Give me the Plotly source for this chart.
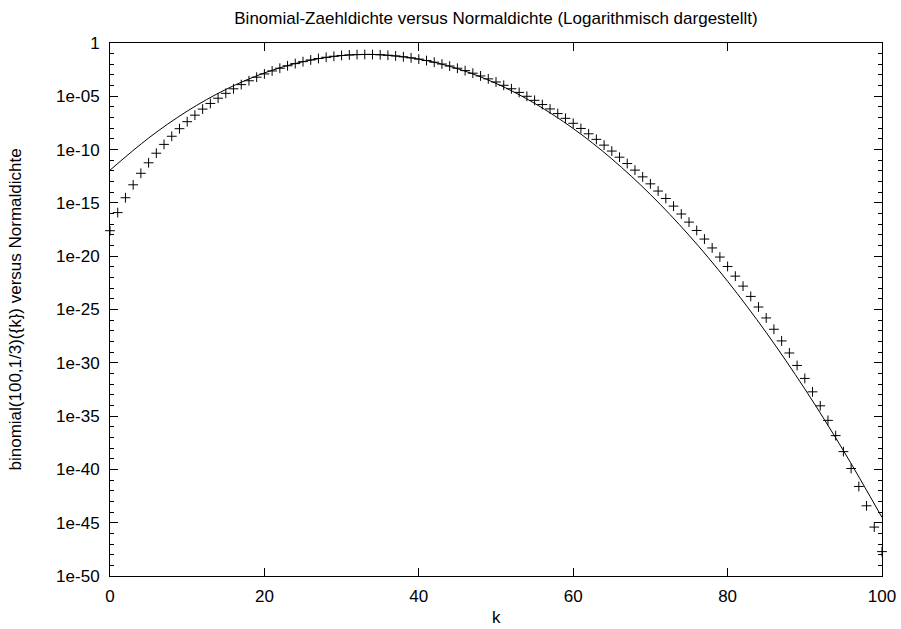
import plotly.graph_objects as go

# Binomial(100, 1/3) point masses, log10 of value, k = 0..100
k_vals = list(range(0, 101))
binom_log10 = [
    -17.609, -15.910, -14.516, -13.303, -12.220, -11.237, -10.339, -9.512, -8.748, -8.039,
    -7.381, -6.769, -6.200, -5.671, -5.178, -4.721, -4.297, -3.904, -3.541, -3.207,
    -2.901, -2.621, -2.367, -2.137, -1.932, -1.750, -1.591, -1.454, -1.339, -1.245,
    -1.172, -1.119, -1.087, -1.074, -1.080, -1.106, -1.150, -1.213, -1.295, -1.394,
    -1.512, -1.648, -1.801, -1.972, -2.161, -2.367, -2.590, -2.831, -3.089, -3.364,
    -3.657, -3.966, -4.293, -4.637, -4.999, -5.377, -5.773, -6.187, -6.618, -7.066,
    -7.533, -8.017, -8.519, -9.040, -9.579, -10.137, -10.713, -11.309, -11.924, -12.558,
    -13.213, -13.888, -14.584, -15.302, -16.041, -16.802, -17.586, -18.393, -19.225, -20.081,
    -20.963, -21.871, -22.807, -23.772, -24.767, -25.793, -26.853, -27.947, -29.079, -30.250,
    -31.464, -32.724, -34.034, -35.401, -36.830, -38.330, -39.915, -41.600, -43.416, -45.412,
    -47.713,
]

# Normal density curve (log10 of value) sampled along k
norm_x = [0, 5, 10, 15, 20, 25, 30, 33.333, 35, 40, 45, 50, 55, 60, 65, 70, 75, 80, 85, 90, 95, 100]
norm_log10 = [-11.930, -8.917, -6.392, -4.357, -2.810, -1.751, -1.181, -1.0725, -1.100, -1.507,
              -2.403, -3.787, -5.660, -8.021, -10.871, -14.210, -18.037, -22.353, -27.157,
              -32.450, -38.233, -44.503]

y_major_exp = [0, -5, -10, -15, -20, -25, -30, -35, -40, -45, -50]
y_major_labels = ["1", "1e-05", "1e-10", "1e-15", "1e-20", "1e-25", "1e-30",
                  "1e-35", "1e-40", "1e-45", "1e-50"]
x_ticks = [0, 20, 40, 60, 80, 100]

binom_vals = [10 ** v for v in binom_log10]
norm_vals = [10 ** v for v in norm_log10]

fig = go.Figure()
fig.add_trace(go.Scatter(
    x=norm_x, y=norm_vals, mode="lines", line=dict(color="black", width=1, shape="spline"),
    showlegend=False, hoverinfo="skip"))
fig.add_trace(go.Scatter(
    x=k_vals, y=binom_vals, mode="markers",
    marker=dict(symbol="cross-thin", size=7, line=dict(color="black", width=1), color="black"),
    cliponaxis=False, showlegend=False))

FAM = "Liberation Sans, Arial, sans-serif"
tick_font = dict(family=FAM, size=17, color="black")
title_font = dict(family=FAM, size=17, color="black")
minor_vals = [10 ** e for e in range(0, -51, -1) if e % 5 != 0]

fig.update_layout(
    width=901, height=629,
    margin=dict(l=110, r=19, t=43, b=53, autoexpand=False),
    paper_bgcolor="white", plot_bgcolor="white",
    font=tick_font,
    title=dict(text="Binomial-Zaehldichte versus Normaldichte (Logarithmisch dargestellt)",
               x=0.5, xref="paper", y=1 - 18 / 629, yanchor="middle", font=title_font),
    xaxis=dict(
        range=[0, 100], tickvals=x_ticks, ticktext=[str(v) for v in x_ticks],
        ticks="inside", ticklen=8, tickwidth=1, tickcolor="black",
        showline=True, linecolor="black", linewidth=1, mirror="allticks",
        showgrid=False, zeroline=False, tickfont=tick_font, ticklabelstandoff=5,
        automargin=False,
    ),
    yaxis=dict(
        type="log", range=[-50, 0],
        tickvals=[10 ** e for e in y_major_exp], ticktext=y_major_labels,
        ticks="inside", ticklen=8, tickwidth=1, tickcolor="black",
        showline=True, linecolor="black", linewidth=1, mirror="allticks",
        showgrid=False, zeroline=False, tickfont=tick_font, ticklabelstandoff=6,
        automargin=False,
        minor=dict(tickvals=minor_vals, ticks="inside", ticklen=4, tickwidth=1,
                   tickcolor="black", showgrid=False),
    ),
    annotations=[
        dict(text="k", xref="paper", yref="paper", x=0.5, y=0, yshift=-41,
             xanchor="center", yanchor="middle", showarrow=False,
             font=dict(family=FAM, size=17, color="black")),
        dict(text="binomial(100,1/3)({k}) versus Normaldichte", xref="paper", yref="paper",
             x=0, y=0.5, xshift=-95, xanchor="center", yanchor="middle", textangle=-90,
             showarrow=False, font=dict(family=FAM, size=17, color="black")),
    ],
)

fig.write_html("out.html")
